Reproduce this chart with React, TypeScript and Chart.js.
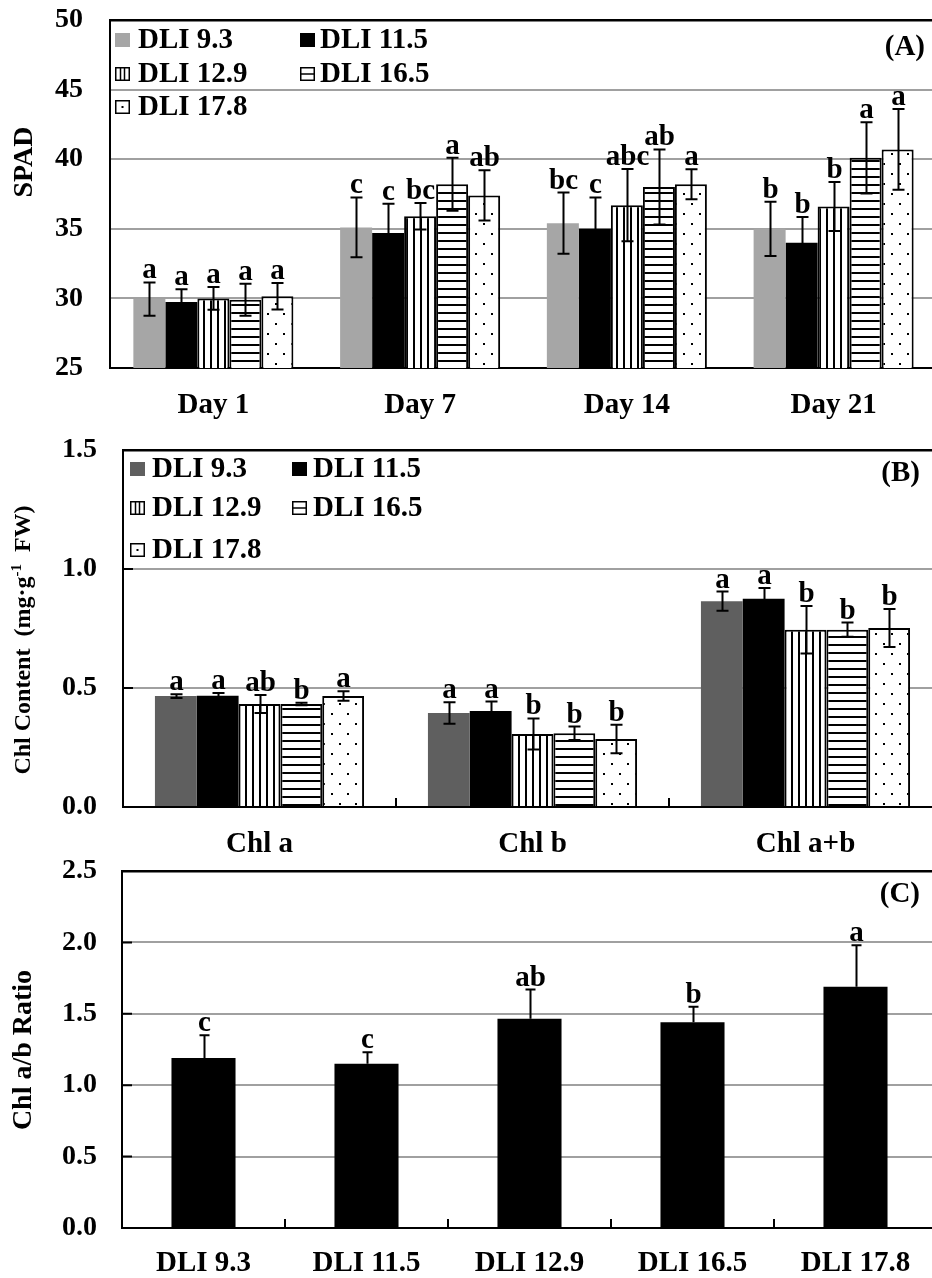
import React, { useEffect, useRef } from "react";
import { Chart, registerables } from "chart.js";
Chart.register(...registerables);

const FONT = '"Liberation Serif", "Times New Roman", serif';

// ---------- categories / tick labels ----------
const dayLabels = ["Day 1", "Day 7", "Day 14", "Day 21"];
const chlLabels = ["Chl a", "Chl b", "Chl a+b"];
const dliLabels = ["DLI 9.3", "DLI 11.5", "DLI 12.9", "DLI 16.5", "DLI 17.8"];
const ticksA = [25, 30, 35, 40, 45, 50];
const ticksB = [0, 0.5, 1.0, 1.5];
const ticksBLabels = ["0.0", "0.5", "1.0", "1.5"];
const ticksC = [0, 0.5, 1.0, 1.5, 2.0, 2.5];
const ticksCLabels = ["0.0", "0.5", "1.0", "1.5", "2.0", "2.5"];

// ---------- Panel A: SPAD (Day 1, 7, 14, 21) ----------
const spad93 = [29.95, 35.1, 35.4, 35.0];
const spad115 = [29.75, 34.7, 35.0, 34.0];
const spad129 = [30.0, 35.9, 36.7, 36.6];
const spad165 = [29.9, 38.2, 38.0, 40.1];
const spad178 = [30.15, 37.4, 38.2, 40.7];
const spadErr93 = [1.2, 2.15, 2.2, 1.95];
const spadErr115 = [0.9, 2.1, 2.25, 1.85];
const spadErr129 = [0.82, 0.95, 2.6, 1.76];
const spadErr165 = [1.15, 1.9, 2.7, 2.56];
const spadErr178 = [0.95, 1.8, 1.07, 2.9];
const spadLet93 = ["a", "c", "bc", "b"];
const spadLet115 = ["a", "c", "c", "b"];
const spadLet129 = ["a", "bc", "abc", "b"];
const spadLet165 = ["a", "a", "ab", "a"];
const spadLet178 = ["a", "ab", "a", "a"];

// ---------- Panel B: Chl content (Chl a, Chl b, Chl a+b) ----------
const chl93 = [0.466, 0.395, 0.865];
const chl115 = [0.467, 0.403, 0.875];
const chl129 = [0.433, 0.307, 0.745];
const chl165 = [0.433, 0.31, 0.745];
const chl178 = [0.466, 0.286, 0.752];
const chlErr93 = [0.008, 0.045, 0.04];
const chlErr115 = [0.012, 0.04, 0.045];
const chlErr129 = [0.038, 0.065, 0.1];
const chlErr165 = [0.005, 0.028, 0.03];
const chlErr178 = [0.02, 0.06, 0.08];
const chlLet93 = ["a", "a", "a"];
const chlLet115 = ["a", "a", "a"];
const chlLet129 = ["ab", "b", "b"];
const chlLet165 = ["b", "b", "b"];
const chlLet178 = ["a", "b", "b"];

// ---------- Panel C: Chl a/b ratio ----------
const ratioMean = [1.19, 1.15, 1.465, 1.44, 1.69];
const ratioErr = [0.16, 0.08, 0.205, 0.11, 0.29];
const ratioLet = ["c", "c", "ab", "b", "a"];

type Kind = "gray" | "dark" | "black" | "v" | "h" | "d";

function makeFill(kind: Kind): string | CanvasPattern {
  if (kind === "gray") return "#a6a6a6";
  if (kind === "dark") return "#5f5f5f";
  if (kind === "black") return "#000000";
  const c = document.createElement("canvas");
  if (kind === "v") { c.width = 7; c.height = 8; }
  else if (kind === "h") { c.width = 8; c.height = 8; }
  else { c.width = 16; c.height = 20; }
  const g = c.getContext("2d")!;
  g.fillStyle = "#fff";
  g.fillRect(0, 0, c.width, c.height);
  g.fillStyle = "#000";
  if (kind === "v") g.fillRect(0, 0, 2, 8);
  else if (kind === "h") g.fillRect(0, 0, 8, 2);
  else { g.fillRect(3, 3, 2, 2); g.fillRect(11, 13, 2, 2); }
  return g.createPattern(c, "repeat")!;
}

interface AnnotCfg {
  capHalf: number;
  upOnly?: boolean;
  inward?: boolean;
  legend?: { kinds: Kind[]; names: string[]; boxX: number[]; textX: number[]; rows: number[]; size: number };
  panel: string; panelDx: number; panelDy: number;
  title: { segs: { t: string; sup?: boolean }[]; cx: number; cy: number; size: number };
}

function bold(size: number) { return `bold ${size}px ${FONT}`; }

function drawLegendBox(ctx: CanvasRenderingContext2D, kind: Kind, x: number, base: number) {
  const s = 15; const y = base - s;
  if (kind === "gray" || kind === "dark" || kind === "black") {
    ctx.fillStyle = kind === "gray" ? "#a6a6a6" : kind === "dark" ? "#5f5f5f" : "#000";
    ctx.fillRect(x, y, s, s - 1);
    return;
  }
  ctx.fillStyle = "#fff";
  ctx.fillRect(x, y, s, s - 1);
  ctx.strokeStyle = "#000"; ctx.lineWidth = 1.5;
  ctx.strokeRect(x + 0.75, y + 0.75, s - 1.5, s - 2.5);
  ctx.beginPath();
  if (kind === "v") { ctx.moveTo(x + 5.5, y); ctx.lineTo(x + 5.5, y + s - 1); ctx.moveTo(x + 9.5, y); ctx.lineTo(x + 9.5, y + s - 1); }
  else if (kind === "h") { ctx.moveTo(x, y + 7); ctx.lineTo(x + s, y + 7); }
  ctx.stroke();
  if (kind === "d") { ctx.fillStyle = "#000"; ctx.fillRect(x + 6.5, y + 6, 2, 2); }
}

function annotPlugin(cfg: AnnotCfg) {
  return {
    id: "annot",
    afterDatasetsDraw(chart: any) {
      const ctx: CanvasRenderingContext2D = chart.ctx;
      const area = chart.chartArea;
      const ys = chart.scales.y; const xs = chart.scales.x;
      ctx.save();
      ctx.strokeStyle = "#000"; ctx.lineWidth = 2;
      if (cfg.inward) {
        ctx.beginPath();
        ys.ticks.forEach((t: any) => {
          const y = ys.getPixelForValue(t.value);
          ctx.moveTo(area.left, y); ctx.lineTo(area.left + 10, y);
        });
        for (let i = 1; i < xs.ticks.length; i++) {
          const x = (xs.getPixelForValue(i - 1) + xs.getPixelForValue(i)) / 2;
          ctx.moveTo(x, area.bottom); ctx.lineTo(x, area.bottom - 9);
        }
        ctx.stroke();
      }
      // error bars + letters
      chart.data.datasets.forEach((ds: any, di: number) => {
        const meta = chart.getDatasetMeta(di);
        meta.data.forEach((el: any, i: number) => {
          const v = ds.data[i]; const e = ds.errors[i];
          const x = Math.round(el.x) + 0.5;
          const yT = ys.getPixelForValue(v + e);
          const yB = cfg.upOnly ? ys.getPixelForValue(v) : ys.getPixelForValue(v - e);
          ctx.strokeStyle = "#000"; ctx.lineWidth = 2;
          ctx.beginPath();
          ctx.moveTo(x, yT); ctx.lineTo(x, yB);
          ctx.moveTo(x - cfg.capHalf, yT); ctx.lineTo(x + cfg.capHalf, yT);
          if (!cfg.upOnly) { ctx.moveTo(x - cfg.capHalf, yB); ctx.lineTo(x + cfg.capHalf, yB); }
          ctx.stroke();
          ctx.fillStyle = "#000"; ctx.font = bold(29);
          ctx.textAlign = "center"; ctx.textBaseline = "alphabetic";
          ctx.fillText(ds.letters[i], x, yT - 4);
        });
      });
      // legend
      if (cfg.legend) {
        const L = cfg.legend;
        ctx.font = bold(L.size); ctx.textAlign = "left"; ctx.textBaseline = "alphabetic";
        L.names.forEach((name, k) => {
          const col = k % 2; const row = Math.floor(k / 2);
          const base = area.top + L.rows[row];
          drawLegendBox(ctx, L.kinds[k], area.left + L.boxX[col], base);
          ctx.fillStyle = "#000";
          ctx.fillText(name, area.left + L.textX[col], base);
        });
      }
      // panel label
      ctx.font = bold(29); ctx.fillStyle = "#000";
      ctx.textAlign = "right"; ctx.textBaseline = "alphabetic";
      ctx.fillText(cfg.panel, cfg.panelDx, area.top + cfg.panelDy);
      // y title
      const T = cfg.title;
      ctx.translate(T.cx, T.cy); ctx.rotate(-Math.PI / 2);
      let total = 0;
      T.segs.forEach((s) => { ctx.font = bold(s.sup ? Math.round(T.size * 0.62) : T.size); total += ctx.measureText(s.t).width; });
      let px = -total / 2;
      ctx.textAlign = "left";
      T.segs.forEach((s) => {
        ctx.font = bold(s.sup ? Math.round(T.size * 0.62) : T.size);
        ctx.fillText(s.t, px, s.sup ? -T.size * 0.05 : T.size * 0.33);
        px += ctx.measureText(s.t).width;
      });
      ctx.restore();
    },
  };
}

function baseOptions(o: { yTicks: number[]; yLabels?: string[]; yWidth: number; xHeight: number; padTop: number; xPad: number; yPad: number }) {
  const max = o.yTicks[o.yTicks.length - 1];
  return {
    responsive: false,
    animation: false as const,
    devicePixelRatio: 1,
    layout: { padding: { top: o.padTop, left: 0, right: 0, bottom: 0 } },
    plugins: { legend: { display: false }, tooltip: { enabled: false } },
    scales: {
      x: {
        grid: { display: true, drawOnChartArea: false, drawTicks: false },
        border: { display: true, color: "#000", width: 2 },
        ticks: { color: "#000", font: { family: FONT, size: 29, weight: "bold" }, padding: o.xPad, maxRotation: 0, autoSkip: false },
        afterFit: (s: any) => { s.height = o.xHeight; s.paddingLeft = 0; s.paddingRight = 0; },
      },
      y: {
        min: o.yTicks[0], max,
        grid: {
          drawTicks: false,
          color: (c: any) => (c.tick && c.tick.value === max ? "#000" : "#a0a0a0"),
          lineWidth: (c: any) => (c.tick && c.tick.value === max ? 2.5 : 2),
        },
        border: { display: true, color: "#000", width: 2 },
        ticks: {
          color: "#000", font: { family: FONT, size: 28, weight: "bold", lineHeight: 1 }, padding: o.yPad,
          callback: (v: any, i: number) => (o.yLabels ? o.yLabels[i] : String(v)),
        },
        afterBuildTicks: (s: any) => { s.ticks = o.yTicks.map((v) => ({ value: v })); },
        afterFit: (s: any) => { s.width = o.yWidth; s.paddingTop = 0; s.paddingBottom = 0; },
      },
    },
  };
}

export default function App() {
  const refA = useRef<HTMLCanvasElement>(null);
  const refB = useRef<HTMLCanvasElement>(null);
  const refC = useRef<HTMLCanvasElement>(null);

  useEffect(() => {
    const kindsA: Kind[] = ["gray", "black", "v", "h", "d"];
    const kindsB: Kind[] = ["dark", "black", "v", "h", "d"];
    const spadMeans = [spad93, spad115, spad129, spad165, spad178];
    const spadErrs = [spadErr93, spadErr115, spadErr129, spadErr165, spadErr178];
    const spadLets = [spadLet93, spadLet115, spadLet129, spadLet165, spadLet178];
    const chlMeans = [chl93, chl115, chl129, chl165, chl178];
    const chlErrs = [chlErr93, chlErr115, chlErr129, chlErr165, chlErr178];
    const chlLets = [chlLet93, chlLet115, chlLet129, chlLet165, chlLet178];

    const chartA = new Chart(refA.current!, {
      type: "bar",
      data: {
        labels: dayLabels,
        datasets: dliLabels.map((name, k) => ({
          label: name, data: spadMeans[k], errors: spadErrs[k], letters: spadLets[k],
          backgroundColor: makeFill(kindsA[k]), borderColor: "#000", borderWidth: k >= 2 ? 2 : 0,
          categoryPercentage: 0.774, barPercentage: 1,
        })) as any,
      },
      options: baseOptions({ yTicks: ticksA, yWidth: 110, xHeight: 62, padTop: 20, xPad: 20, yPad: 27 }) as any,
      plugins: [annotPlugin({
        capHalf: 6,
        legend: { kinds: kindsA, names: dliLabels, boxX: [5, 190], textX: [28, 210], rows: [28, 62, 95], size: 29 },
        panel: "(A)", panelDx: 925, panelDy: 35,
        title: { segs: [{ t: "SPAD" }], cx: 23, cy: 162, size: 28 },
      })],
    });

    const chartB = new Chart(refB.current!, {
      type: "bar",
      data: {
        labels: chlLabels,
        datasets: dliLabels.map((name, k) => ({
          label: name, data: chlMeans[k], errors: chlErrs[k], letters: chlLets[k],
          backgroundColor: makeFill(kindsB[k]), borderColor: "#000", borderWidth: k >= 2 ? 2 : 0,
          categoryPercentage: 0.766, barPercentage: 1,
        })) as any,
      },
      options: baseOptions({ yTicks: ticksB, yLabels: ticksBLabels, yWidth: 123, xHeight: 58, padTop: 30, xPad: 20, yPad: 26 }) as any,
      plugins: [annotPlugin({
        capHalf: 6, inward: true,
        legend: { kinds: kindsB, names: dliLabels, boxX: [7, 169], textX: [29, 190], rows: [27, 66, 108], size: 29 },
        panel: "(B)", panelDx: 920, panelDy: 31,
        title: { segs: [{ t: "Chl Content  (mg·g" }, { t: "-1", sup: true }, { t: "  FW)" }], cx: 22, cy: 220, size: 24 },
      })],
    });

    const chartC = new Chart(refC.current!, {
      type: "bar",
      data: {
        labels: dliLabels,
        datasets: [{
          label: "Chl a/b", data: ratioMean, errors: ratioErr, letters: ratioLet,
          backgroundColor: "#000", borderWidth: 0, categoryPercentage: 0.393, barPercentage: 1,
        }] as any,
      },
      options: baseOptions({ yTicks: ticksC, yLabels: ticksCLabels, yWidth: 122, xHeight: 50, padTop: 31, xPad: 18, yPad: 25 }) as any,
      plugins: [annotPlugin({
        capHalf: 5, inward: true, upOnly: true,
        panel: "(C)", panelDx: 920, panelDy: 31,
        title: { segs: [{ t: "Chl a/b Ratio" }], cx: 22, cy: 210, size: 28 },
      })],
    });

    return () => { chartA.destroy(); chartB.destroy(); chartC.destroy(); };
  }, []);

  return (
    <div style={{ position: "absolute", left: 0, top: 0, width: 932, height: 1278, overflow: "hidden", background: "#fff" }}>
      <canvas ref={refA} width={937} height={430} style={{ position: "absolute", left: 0, top: 0, width: 937, height: 430 }} />
      <canvas ref={refB} width={942} height={445} style={{ position: "absolute", left: 0, top: 420, width: 942, height: 445 }} />
      <canvas ref={refC} width={937} height={438} style={{ position: "absolute", left: 0, top: 840, width: 937, height: 438 }} />
    </div>
  );
}
